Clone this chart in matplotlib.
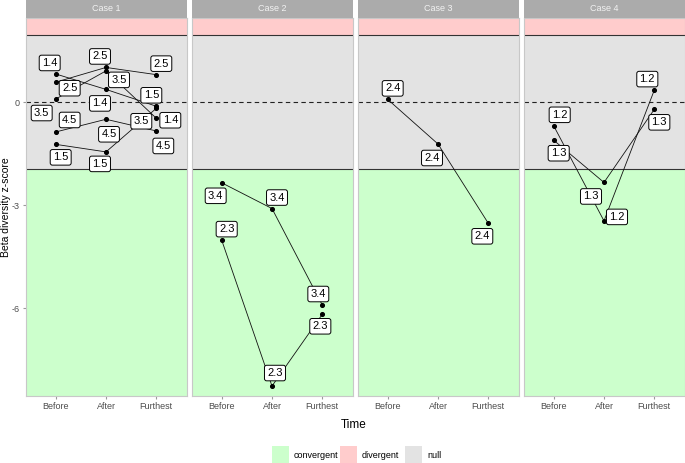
import matplotlib
matplotlib.use("Agg")
import matplotlib.pyplot as plt
from matplotlib.patches import Rectangle

plt.rcParams['font.family'] = ['Liberation Sans', 'DejaVu Sans']

# ---------------- data ----------------
times = ["Before", "After", "Furthest"]
cases = ["Case 1", "Case 2", "Case 3", "Case 4"]

case1_series = ["1.4", "2.5", "3.5", "1.5", "4.5"]
case1_values = [
    [0.82, 0.37, -0.12],
    [0.58, 1.01, 0.80],
    [0.09, 0.91, -0.47],
    [-1.23, -1.45, -0.18],
    [-0.87, -0.50, -0.84],
]
case2_series = ["3.4", "2.3"]
case2_values = [
    [-2.35, -3.10, -5.91],
    [-4.02, -8.27, -6.18],
]
case3_series = ["2.4"]
case3_values = [
    [0.08, -1.22, -3.53],
]
case4_series = ["1.2", "1.3"]
case4_values = [
    [-0.69, -3.46, 0.35],
    [-1.11, -2.34, -0.21],
]
threshold = 1.96
y_ticks = [0, -3, -6]
legend_labels = ["convergent", "divergent", "null"]

# --------------- label offsets (pixels), positions only ---------------
label_offsets = {
    ("Case 1", "1.4"): [(-6, 11), (-6, -14), (14, -14)],
    ("Case 1", "2.5"): [(14, -6), (-6, 11), (5, 11)],
    ("Case 1", "3.5"): [(-14, -14), (13, -9), (-15, -3)],
    ("Case 1", "1.5"): [(5, -13), (-6, -12), (-5, 13)],
    ("Case 1", "4.5"): [(14, 12), (3, -15), (7, -15)],
    ("Case 2", "3.4"): [(-6, -13), (5, 11), (-4, 11)],
    ("Case 2", "2.3"): [(5, 11), (3, 13), (-2, -12)],
    ("Case 3", "2.4"): [(5, 11), (-6, -14), (-6, -13)],
    ("Case 4", "1.2"): [(6, 11), (13, 4), (-7, 11)],
    ("Case 4", "1.3"): [(5, -13), (-13, -14), (5, -13)],
}

case_data = {
    "Case 1": (case1_series, case1_values),
    "Case 2": (case2_series, case2_values),
    "Case 3": (case3_series, case3_values),
    "Case 4": (case4_series, case4_values),
}

# --------------- styling ---------------
W, H = 685, 463
c_conv = "#CCFFCC"
c_div = "#FFCCCC"
c_null = "#E3E3E3"
strip_col = "#ABABAB"
tick_col = "#4D4D4D"
ylim = (-8.56, 2.45)
xlim = (0.4, 3.6)

fig = plt.figure(figsize=(W / 100, H / 100), dpi=100)

panel_lefts = [25.5, 191.5, 357.5, 523.5]
panel_w = 161
panel_top, panel_bot = 18, 396
strip_h = 17.5


def fx(px):
    return px / W


def fy(py):
    return 1 - py / H


for i, case in enumerate(cases):
    left = panel_lefts[i]
    ax = fig.add_axes([fx(left), fy(panel_bot), panel_w / W, (panel_bot - panel_top) / H])
    ax.set_xlim(*xlim)
    ax.set_ylim(*ylim)
    ax.axhspan(threshold, ylim[1], color=c_div, lw=0, zorder=0)
    ax.axhspan(-threshold, threshold, color=c_null, lw=0, zorder=0)
    ax.axhspan(ylim[0], -threshold, color=c_conv, lw=0, zorder=0)
    ax.axhline(threshold, color="#333333", lw=0.8, zorder=1)
    ax.axhline(-threshold, color="#333333", lw=0.8, zorder=1)
    ax.axhline(0, color="#222222", lw=0.8, ls=(0, (4, 3)), zorder=1)

    series, values = case_data[case]
    xs = [1, 2, 3]
    for s, vals in zip(series, values):
        ax.plot(xs, vals, color="#111111", lw=0.6, zorder=2)
        ax.scatter(xs, vals, s=7, color="black", zorder=3)
        offs = label_offsets[(case, s)]
        for x, v, off in zip(xs, vals, offs):
            ax.annotate(s, (x, v), xytext=off, textcoords="offset pixels",
                        ha="center", va="center", fontsize=8, color="black",
                        bbox=dict(boxstyle="round,pad=0.25,rounding_size=0.2",
                                  fc="white", ec="black", lw=0.7),
                        zorder=4)

    ax.set_xticks(xs)
    ax.set_xticklabels(times, fontsize=6.5, color=tick_col)
    ax.tick_params(axis="x", length=2.5, color="#9A9A9A", pad=2)
    if i == 0:
        ax.set_yticks(y_ticks)
        ax.set_yticklabels([str(t) for t in y_ticks], fontsize=6.5, color=tick_col)
        ax.tick_params(axis="y", length=2.5, color="#9A9A9A", pad=2)
    else:
        ax.set_yticks([])
    for sp in ax.spines.values():
        sp.set_color("#C8C8C8")
        sp.set_linewidth(0.8)

    # strip
    sax = fig.add_axes([fx(left), fy(strip_h), panel_w / W, strip_h / H])
    sax.set_xlim(0, 1)
    sax.set_ylim(0, 1)
    sax.add_patch(Rectangle((0, 0), 1, 1, color=strip_col, lw=0))
    sax.text(0.5, 0.5, case, ha="center", va="center", fontsize=6.5, color="#F2F2F2")
    sax.axis("off")

# axis titles
fig.text(fx(6), fy(207), "Beta diversity z-score", rotation=90, ha="center",
         va="center", fontsize=7.5, color="black")
fig.text(fx(354), fy(425), "Time", ha="center", va="center", fontsize=8.5, color="black")

# legend
leg_cols = [c_conv, c_div, c_null]
key_x = [272, 340, 405]
for lab, col, kx in zip(legend_labels, leg_cols, key_x):
    fig.add_artist(Rectangle((fx(kx), fy(463)), 17 / W, 17 / H,
                             transform=fig.transFigure, color=col, lw=0))
    fig.text(fx(kx + 22), fy(455), lab, ha="left", va="center", fontsize=6.5, color="black")

fig.savefig("out.png", dpi=100, facecolor="white")
